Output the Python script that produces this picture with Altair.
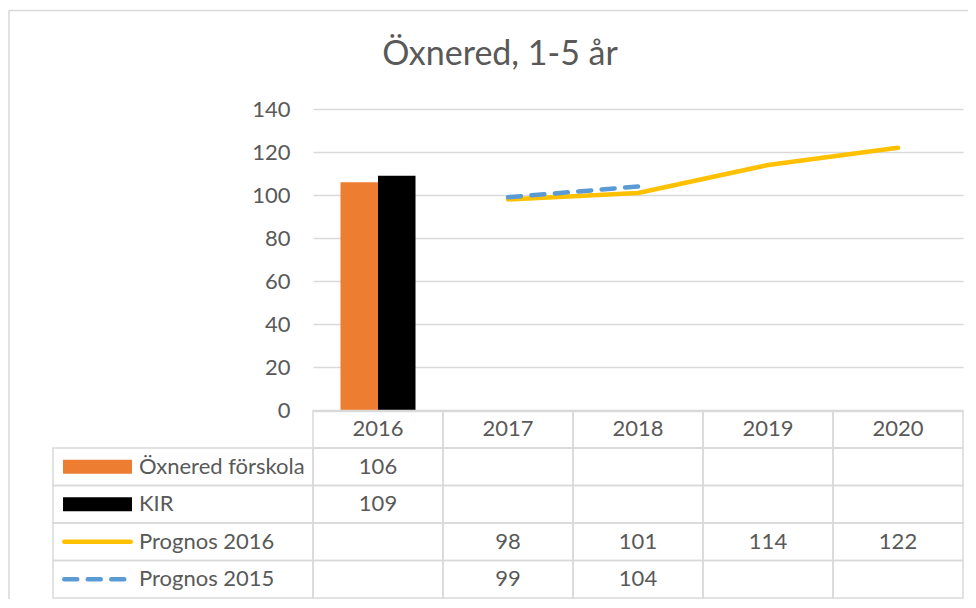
import altair as alt
import pandas as pd

# ---- data -------------------------------------------------------------
title_text = "Öxnered, 1-5 år"
years = ["2016", "2017", "2018", "2019", "2020"]
series = ["Öxnered förskola", "KIR", "Prognos 2016", "Prognos 2015"]
forskola = [106, None, None, None, None]
kir = [109, None, None, None, None]
prognos_2016 = [None, 98, 101, 114, 122]
prognos_2015 = [None, 99, 104, None, None]
y_ticks = [0, 20, 40, 60, 80, 100, 120, 140]
colors = ["#ED7D31", "#000000", "#FFC000", "#5B9BD5"]
header_row = "hdr"

# ---- derived tables ---------------------------------------------------
values_by_series = dict(zip(series, [forskola, kir, prognos_2016, prognos_2015]))
long = pd.DataFrame(
    [{"series": s, "year": y, "value": v}
     for s, vals in values_by_series.items() for y, v in zip(years, vals)]
)
present = long.dropna().copy()
present["row"] = present["series"]
bars_df = present[present["series"].isin(series[:2])]
line16_df = present[present["series"] == series[2]]
line15_df = present[present["series"] == series[3]]

rows = [header_row] + series
cells_df = pd.DataFrame([{"row": r, "year": y} for r in rows for y in years])
label_cells_df = pd.DataFrame([{"row": s, "col": "label"} for s in series])
header_df = pd.DataFrame([{"row": header_row, "year": y} for y in years])
series_df = pd.DataFrame([{"row": s, "series": s} for s in series])
title_df = pd.DataFrame({"t": [title_text]})

# ---- style ------------------------------------------------------------
FONT = "Lato"
TXT = "#595959"
GRID = "#D9D9D9"
FS = 22

X_YEAR = alt.Scale(domain=years, paddingInner=0, paddingOuter=0)
Y_VAL = alt.Scale(domain=[0, 140], range=[301.5, 0], nice=False, zero=True)
Y_ROW = alt.Scale(domain=rows, range=[301.5, 489], paddingInner=0, paddingOuter=0)
X_LABEL = alt.Scale(domain=["label"], range=[-260, 0], paddingInner=0, paddingOuter=0)
COLOR = alt.Scale(domain=series, range=colors)

xy = alt.X("year:N", scale=X_YEAR, axis=None)
yrow = alt.Y("row:N", scale=Y_ROW, axis=None)

bars = alt.Chart(bars_df).mark_bar().encode(
    x=xy,
    xOffset=alt.XOffset("series:N", scale=alt.Scale(domain=series[:2], paddingInner=0, paddingOuter=0.733)),
    y=alt.Y(
        "value:Q", scale=Y_VAL,
        axis=alt.Axis(values=y_ticks, grid=True, gridColor=GRID, gridWidth=1.5,
                      domain=False, ticks=False, labelPadding=23, labelFont=FONT,
                      labelFontSize=FS, labelColor=TXT, title=None),
    ),
    color=alt.Color("series:N", scale=COLOR, legend=None),
)

line16 = alt.Chart(line16_df).mark_line(strokeWidth=4.5, strokeCap="round", strokeJoin="round").encode(
    x=xy, y=alt.Y("value:Q", scale=Y_VAL, axis=None),
    color=alt.Color("series:N", scale=COLOR, legend=None),
)
line15 = alt.Chart(line15_df).mark_line(strokeWidth=4.5, strokeCap="round", strokeJoin="round",
                                        strokeDash=[13, 10.5]).encode(
    x=xy, y=alt.Y("value:Q", scale=Y_VAL, axis=None),
    color=alt.Color("series:N", scale=COLOR, legend=None),
)

cells = alt.Chart(cells_df).mark_rect(filled=False, stroke=GRID, strokeWidth=1.5).encode(x=xy, y=yrow)
label_cells = alt.Chart(label_cells_df).mark_rect(filled=False, stroke=GRID, strokeWidth=1.5).encode(
    x=alt.X("col:N", scale=X_LABEL, axis=None), y=yrow
)

sw_bars = alt.Chart(series_df[series_df["series"].isin(series[:2])]).mark_rule(
    strokeWidth=14, strokeCap="butt").encode(
    x=alt.value(-250), x2=alt.value(-181), y=yrow,
    color=alt.Color("series:N", scale=COLOR, legend=None),
)
sw_l16 = alt.Chart(series_df[series_df["series"] == series[2]]).mark_rule(
    strokeWidth=4.5, strokeCap="round").encode(
    x=alt.value(-248.75), x2=alt.value(-182.25), y=yrow,
    color=alt.Color("series:N", scale=COLOR, legend=None),
)
sw_l15 = alt.Chart(series_df[series_df["series"] == series[3]]).mark_rule(
    strokeWidth=4.5, strokeCap="round", strokeDash=[13, 10.5]).encode(
    x=alt.value(-248.75), x2=alt.value(-182.25), y=yrow,
    color=alt.Color("series:N", scale=COLOR, legend=None),
)

row_labels = alt.Chart(series_df).mark_text(align="left", font=FONT, fontSize=FS, color=TXT).encode(
    x=alt.value(-174), y=yrow, text="series:N"
)
header_text = alt.Chart(header_df).mark_text(font=FONT, fontSize=FS, color=TXT).encode(
    x=xy, y=yrow, text="year:N"
)
value_text = alt.Chart(present).mark_text(font=FONT, fontSize=FS, color=TXT).encode(
    x=xy, y=yrow, text=alt.Text("value:Q", format="d")
)

title_mark = alt.Chart(title_df).mark_text(font=FONT, fontSize=34, color=TXT, align="center",
                                           baseline="middle").encode(
    x=alt.value(187), y=alt.value(-54), text="t:N"
)

frame_data = pd.DataFrame({"k": [0]})
frame_top = alt.Chart(frame_data).mark_rule(color=GRID, strokeWidth=1.5).encode(
    x=alt.value(-304), x2=alt.value(656), y=alt.value(-98.5)
)
frame_left = alt.Chart(frame_data).mark_rule(color=GRID, strokeWidth=1.5).encode(
    x=alt.value(-304), y=alt.value(-98.5), y2=alt.value(492)
)

chart = alt.layer(
    frame_top, frame_left, bars, line16, line15, cells, label_cells,
    sw_bars, sw_l16, sw_l15, row_labels, header_text, value_text, title_mark,
).resolve_scale(
    x="independent", y="independent"
).properties(
    width=650, height=490,
    padding={"left": 305, "top": 101, "right": 5, "bottom": 0},
    autosize=alt.AutoSizeParams(type="none"),
).configure_view(strokeWidth=0)

chart.save("out.html", embed_options={"renderer": "svg", "actions": False})
